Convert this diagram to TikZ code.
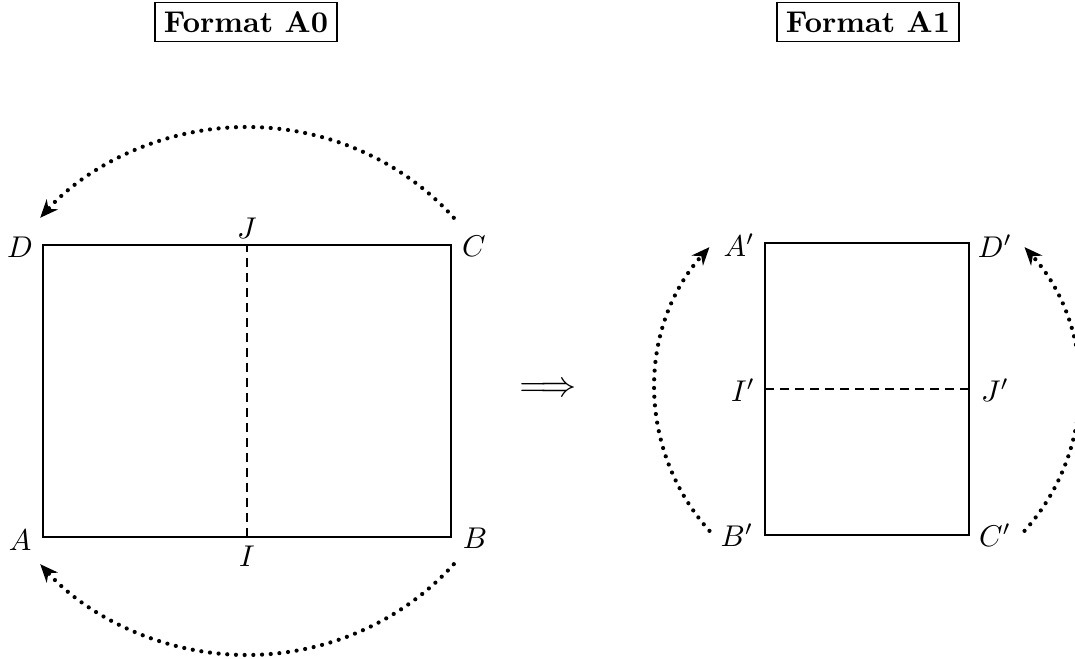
\documentclass[tikz,border=0pt]{standalone}
\usetikzlibrary{arrows.meta}
\begin{document}
\begin{tikzpicture}[x=1pt/3,y=1pt/3,
  sheet/.style={line width=0.7pt},
  fold/.style={line width=0.6pt,dash pattern=on 3pt off 2pt},
  turn/.style={line width=1.4pt,line cap=round,dash pattern=on 0pt off 2.9pt,-{Stealth[length=6pt,width=5pt]}},
  title/.style={draw,line width=0.5pt,inner sep=3pt,font=\bfseries},
  lab/.style={inner sep=0pt}]
\useasboundingbox (0,0) rectangle (1075,659);
% titles
\node[title] (t0) at (246,637) {Format A0};
\node[title] (t1) at (868,637) {Format A1};
% left sheet
\coordinate (A) at (43,122);
\coordinate (B) at (451,122);
\coordinate (C) at (451,414);
\coordinate (D) at (43,414);
\coordinate (I) at (247,122);
\coordinate (J) at (247,414);
\coordinate (O) at (247,268);
\draw[sheet] (A) -- (B) -- (C) -- (D) -- cycle;
\draw[fold] (I) -- (J);
\node[lab] (lA) at (20,119) {$A$};
\node[lab] (lB) at (475,121) {$B$};
\node[lab] (lC) at (474,413) {$C$};
\node[lab] (lD) at (20,412) {$D$};
\node[lab] (lI) at (247,103) {$I$};
\node[lab] (lJ) at (247,431) {$J$};
% turning arrows left
\coordinate (tS) at ([shift={(41:274 and 264)}]O);
\coordinate (bS) at ([shift={(-41:274 and 264)}]O);
\draw[turn] (tS) arc[start angle=41,end angle=139,x radius=274,y radius=264];
\draw[turn] (bS) arc[start angle=-41,end angle=-139,x radius=274,y radius=264];
% implies
\node[inner sep=0pt] (imp) at (548,269) {\large$\Longrightarrow$};
% right sheet
\coordinate (A1) at (765,416);
\coordinate (B1) at (765,124);
\coordinate (C1) at (969,124);
\coordinate (D1) at (969,416);
\coordinate (I1) at (765,270);
\coordinate (J1) at (969,270);
\coordinate (O1) at (867,270);
\draw[sheet] (A1) -- (B1) -- (C1) -- (D1) -- cycle;
\draw[fold] (I1) -- (J1);
\node[lab] (lA1) at (739,414) {$A'$};
\node[lab] (lB1) at (737,124) {$B'$};
\node[lab] (lC1) at (995,124) {$C'$};
\node[lab] (lD1) at (995,413) {$D'$};
\node[lab] (lI1) at (743,269) {$I'$};
\node[lab] (lJ1) at (995,269) {$J'$};
% turning arrows right
\coordinate (lS) at ([shift={(222:212)}]O1);
\coordinate (rS) at ([shift={(-42:212)}]O1);
\draw[turn] (lS) arc[start angle=222,end angle=138,radius=212];
\draw[turn] (rS) arc[start angle=-42,end angle=42,radius=212];
\end{tikzpicture}
\end{document}
